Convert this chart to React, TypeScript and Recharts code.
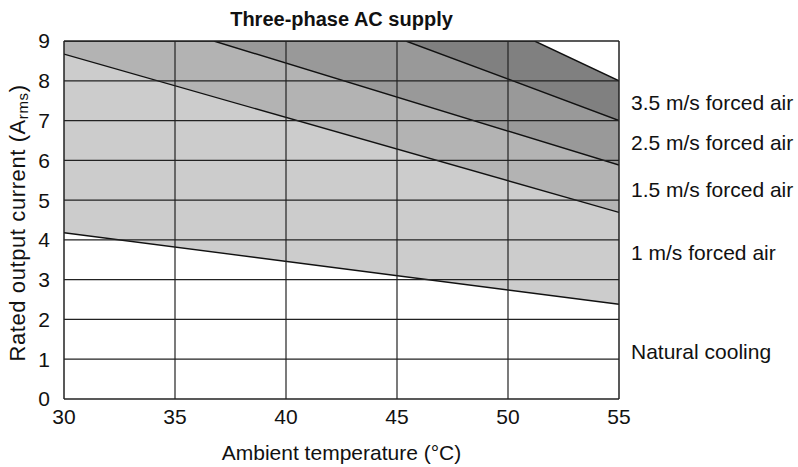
import React from "react";
import {
  ComposedChart,
  Area,
  XAxis,
  YAxis,
  ReferenceLine,
  ReferenceDot,
} from "recharts";

// temperature ticks (°C) and current ticks (A)
const xTicks = [30, 35, 40, 45, 50, 55];
const yTicks = [0, 1, 2, 3, 4, 5, 6, 7, 8, 9];

// derating curves (points where the curve leaves the top are capped at 9)
const air35 = [
  { t: 30, a: 9 },
  { t: 51.2, a: 9 },
  { t: 55, a: 8.0 },
];
const air25 = [
  { t: 30, a: 9 },
  { t: 45.4, a: 9 },
  { t: 55, a: 7.0 },
];
const air15 = [
  { t: 30, a: 9 },
  { t: 36.75, a: 9 },
  { t: 55, a: 5.88 },
];
const air1 = [
  { t: 30, a: 8.67 },
  { t: 55, a: 4.69 },
];
const natural = [
  { t: 30, a: 4.18 },
  { t: 55, a: 2.38 },
];

const curveNames = [
  "3.5 m/s forced air",
  "2.5 m/s forced air",
  "1.5 m/s forced air",
  "1 m/s forced air",
  "Natural cooling",
];
const nameLevels = [7.45, 6.45, 5.27, 3.67, 1.2];

const series = [air35, air25, air15, air1, natural];
const fills = ["#808080", "#999999", "#b3b3b3", "#cccccc", "#ffffff"];

const FONT = "'Liberation Sans', Arial, sans-serif";

function YTitle(props: any) {
  const vb = props.viewBox || {};
  const cx = 17;
  const cy = vb.y + vb.height / 2 + 3;
  return (
    <text
      x={cx}
      y={cy}
      transform={`rotate(-90, ${cx}, ${cy})`}
      textAnchor="middle"
      dominantBaseline="central"
      fontSize={22}
      letterSpacing={0.6}
      fill="#111"
      fontFamily={FONT}
    >
      Rated output current (A
      <tspan fontSize={15} dy={5}>
        rms
      </tspan>
      <tspan dy={-5}>)</tspan>
    </text>
  );
}

export default function App() {
  return (
    <div
      style={{
        position: "absolute",
        left: 0,
        top: 0,
        width: 798,
        height: 467,
        background: "#fff",
        fontFamily: FONT,
      }}
    >
      <div
        style={{
          position: "absolute",
          left: 64,
          width: 555,
          top: 7,
          textAlign: "center",
          fontWeight: "bold",
          fontSize: 20,
          lineHeight: "24px",
          color: "#111",
        }}
      >
        Three-phase AC supply
      </div>
      <ComposedChart
        width={798}
        height={467}
        margin={{ top: 41, right: 179, bottom: 0, left: 0 }}
      >
        <XAxis
          dataKey="t"
          type="number"
          domain={[30, 55]}
          ticks={xTicks}
          allowDataOverflow
          tickLine={false}
          axisLine={false}
          height={68}
          tick={{ fontSize: 21, fill: "#111", fontFamily: FONT }}
          tickMargin={4}
          label={{
            value: "Ambient temperature (°C)",
            position: "insideBottom",
            offset: 7,
            fontSize: 21,
            fill: "#111",
            fontFamily: FONT,
          }}
        />
        <YAxis
          dataKey="a"
          type="number"
          domain={[0, 9]}
          ticks={yTicks}
          allowDataOverflow
          tickLine={false}
          axisLine={false}
          width={64}
          tick={{ fontSize: 21, fill: "#111", fontFamily: FONT }}
          tickMargin={8}
          label={<YTitle />}
        />
        {series.map((d, i) => (
          <Area
            key={curveNames[i]}
            data={d}
            dataKey="a"
            type="linear"
            fill={fills[i]}
            fillOpacity={1}
            stroke="#111"
            strokeWidth={1.4}
            isAnimationActive={false}
            dot={false}
            activeDot={false}
          />
        ))}
        {yTicks.map((v) => (
          <ReferenceLine key={"y" + v} y={v} stroke="#222" strokeWidth={v === 0 || v === 9 ? 1.5 : 1.2} />
        ))}
        {xTicks.map((v) => (
          <ReferenceLine key={"x" + v} x={v} stroke="#222" strokeWidth={v === 30 || v === 55 ? 1.5 : 1.2} />
        ))}
        {curveNames.map((n, i) => (
          <ReferenceDot
            key={n}
            x={55}
            y={nameLevels[i]}
            r={0}
            stroke="none"
            fill="none"
            ifOverflow="visible"
            label={{
              value: n,
              position: "right",
              offset: 12,
              fontSize: 21,
              fill: "#111",
              fontFamily: FONT,
            }}
          />
        ))}
      </ComposedChart>
    </div>
  );
}
